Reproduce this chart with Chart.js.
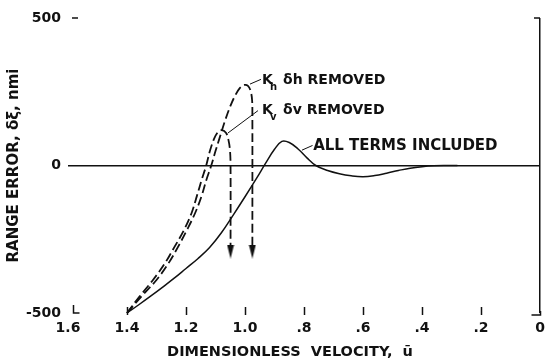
<!DOCTYPE html>
<html><head><meta charset="utf-8">
<script src="https://cdn.jsdelivr.net/npm/chart.js@4/dist/chart.umd.min.js"></script>
<style>html,body{margin:0;padding:0;background:#fff}</style>
</head><body>
<canvas id="c" width="545" height="358" style="width:545px;height:358px;display:block"></canvas>
<script>
// ---- data ----
const xTickValues = [1.6, 1.4, 1.2, 1.0, 0.8, 0.6, 0.4, 0.2, 0];
const xTickLabels = ['1.6', '1.4', '1.2', '1.0', '.8', '.6', '.4', '.2', '0'];
const yTickValues = [500, 0, -500];
const yTickLabels = ['500', '0', '-500'];

const allTermsU   = [1.40,1.36,1.32,1.28,1.24,1.20,1.16,1.12,1.08,1.04,1.00,0.96,0.93,0.90,0.875,0.85,0.82,0.79,0.76,0.72,0.68,0.64,0.60,0.56,0.52,0.48,0.44,0.40,0.36,0.32,0.28];
const allTermsErr = [-500,-472,-443,-413,-382,-349,-316,-278,-228,-168,-106,-42,8,55,82,78,56,26,0,-17,-28,-35,-38,-34,-26,-17,-9,-4,-1,0,0];

const khRemovedU   = [1.400,1.353,1.300,1.261,1.227,1.197,1.169,1.147,1.131,1.115,1.100,1.085,1.068,1.051,1.034,1.017,1.002,0.990,0.981,0.976,0.975,0.975];
const khRemovedErr = [-500,-446,-388,-334,-276,-219,-161,-103,-49,-2,49,97,151,198,236,263,273,270,253,222,171,-290];

const kvRemovedU   = [1.400,1.359,1.312,1.273,1.239,1.207,1.181,1.163,1.147,1.132,1.119,1.105,1.092,1.078,1.064,1.056,1.051,1.049,1.049];
const kvRemovedErr = [-500,-446,-388,-334,-276,-219,-161,-103,-49,-2,49,90,113,120,110,86,53,2,-290];

const arrowU   = [1.049, 0.975];
const arrowErr = [-292, -292];

const xTitle = 'DIMENSIONLESS  VELOCITY,  \u016b';
const yTitle = 'RANGE ERROR, \u03b4\u03be, nmi';
const noteTexts = ['\u03b4h REMOVED', '\u03b4v REMOVED', 'ALL TERMS INCLUDED'];
const noteSubs = ['h', 'v', ''];

// ---- annotation placement / style (kept apart from the data) ----
const noteAnchorU = [0.942, 0.942, 0.769];
const noteAnchorErr = [276, 175, 52];
const noteSize = [14, 14, 15];
const leaderU = [[0.983, 0.946], [1.058, 0.956], [0.807, 0.771]];
const leaderErr = [[276, 292], [110, 186], [52, 68]];

const pts = (us, es) => us.map((u, i) => ({x: u, y: es[i]}));

// narrow arrow head image
const arrowImg = document.createElement('canvas');
arrowImg.width = 8; arrowImg.height = 14;
(function(){const g = arrowImg.getContext('2d'); g.fillStyle = '#111'; g.beginPath(); g.moveTo(0.5,0); g.lineTo(7.5,0); g.lineTo(4,14); g.closePath(); g.fill();})();

const FONT = "'DejaVu Sans', sans-serif";

const decor = {
  id: 'decor',
  afterDraw(chart) {
    const ctx = chart.ctx, xs = chart.scales.x, ys = chart.scales.y, a = chart.chartArea;
    ctx.save();
    ctx.strokeStyle = '#111'; ctx.lineWidth = 1.5;
    xTickValues.forEach(v => {
      const px = Math.round(xs.getPixelForValue(v)) + 0.5;
      if (v === 1.6) {
        ctx.beginPath(); ctx.moveTo(px + 5, a.bottom - 8); ctx.lineTo(px + 5, a.bottom); ctx.lineTo(px + 11, a.bottom); ctx.stroke();
      } else if (v === 0) {
        ctx.beginPath(); ctx.moveTo(px, a.bottom - 2); ctx.lineTo(px, a.bottom + 2); ctx.lineTo(px - 9, a.bottom + 2); ctx.stroke();
      } else {
        ctx.beginPath(); ctx.moveTo(px, a.bottom - 6); ctx.lineTo(px, a.bottom + 2); ctx.stroke();
      }
    });
    const py500 = ys.getPixelForValue(500);
    ctx.beginPath(); ctx.moveTo(a.left + 4, py500); ctx.lineTo(a.left + 10, py500); ctx.stroke();
    ctx.beginPath(); ctx.moveTo(a.right - 6, py500); ctx.lineTo(a.right, py500); ctx.stroke();

    ctx.fillStyle = '#111';
    ctx.textBaseline = 'alphabetic';
    ctx.textAlign = 'left';
    noteTexts.forEach((t, i) => {
      let px = xs.getPixelForValue(noteAnchorU[i]);
      const py = ys.getPixelForValue(noteAnchorErr[i]);
      if (noteSubs[i]) {
        ctx.font = 'bold ' + noteSize[i] + 'px ' + FONT;
        ctx.fillText('K', px, py);
        ctx.font = 'bold 10px ' + FONT;
        ctx.fillText(noteSubs[i], px + 8, py + 6);
        px += 21;
      }
      ctx.font = 'bold ' + noteSize[i] + 'px ' + FONT;
      ctx.fillText(t, px, py);
    });
    ctx.font = 'bold 14.5px ' + FONT;
    ctx.textAlign = 'center';
    ctx.fillText(xTitle, 290, 356);
    ctx.restore();
  }
};

const ds = [
  {data: pts(allTermsU, allTermsErr), borderColor: '#111', borderWidth: 1.5, showLine: true, pointRadius: 0, tension: 0.4},
  {data: pts(khRemovedU, khRemovedErr), borderColor: '#111', borderWidth: 1.8, borderDash: [9, 4], showLine: true, pointRadius: 0, tension: 0.35},
  {data: pts(kvRemovedU, kvRemovedErr), borderColor: '#111', borderWidth: 1.8, borderDash: [9, 4], showLine: true, pointRadius: 0, tension: 0.35},
  {data: pts(arrowU, arrowErr), pointStyle: arrowImg, pointRadius: 7, showLine: false},
];
leaderU.forEach((us, i) => ds.push({data: pts(us, leaderErr[i]), borderColor: '#111', borderWidth: 1, showLine: true, pointRadius: 0, tension: 0}));

new Chart(document.getElementById('c'), {
  type: 'scatter',
  data: {datasets: ds},
  options: {
    responsive: false, animation: false, devicePixelRatio: 1,
    layout: {autoPadding: false, padding: {top: 18, right: 5, left: 0, bottom: 0}},
    plugins: {legend: {display: false}, tooltip: {enabled: false}},
    scales: {
      x: {
        type: 'linear', min: 0, max: 1.6, reverse: true,
        afterBuildTicks: s => { s.ticks = xTickValues.map(v => ({value: v})); },
        afterFit: s => { s.height = 45; s.paddingLeft = 0; s.paddingRight = 0; },
        ticks: {color: '#111', font: {family: FONT, size: 14, weight: 'bold'}, padding: 7, maxRotation: 0, autoSkip: false,
          callback: (v) => { const i = xTickValues.findIndex(t => Math.abs(t - v) < 1e-6); return i >= 0 ? xTickLabels[i] : ''; }},
        grid: {drawTicks: false, lineWidth: 1.5, color: c => (c.tick && Math.abs(c.tick.value) < 1e-6) ? '#111' : 'rgba(0,0,0,0)'},
        border: {display: false}
      },
      y: {
        min: -500, max: 500,
        afterBuildTicks: s => { s.ticks = yTickValues.map(v => ({value: v})); },
        afterFit: s => { s.width = 68; s.paddingTop = 0; s.paddingBottom = 0; },
        ticks: {color: '#111', font: {family: FONT, size: 14, weight: 'bold'}, padding: 7,
          callback: (v) => { const i = yTickValues.indexOf(v); return i >= 0 ? yTickLabels[i] : ''; }},
        title: {display: true, text: yTitle, color: '#111', font: {family: FONT, size: 15, weight: 'bold'}, padding: {top: 5, bottom: 0}},
        grid: {drawTicks: false, lineWidth: 1.5, color: c => (c.tick && c.tick.value === 0) ? '#111' : 'rgba(0,0,0,0)'},
        border: {display: false}
      }
    }
  },
  plugins: [decor]
});
</script>
</body></html>
